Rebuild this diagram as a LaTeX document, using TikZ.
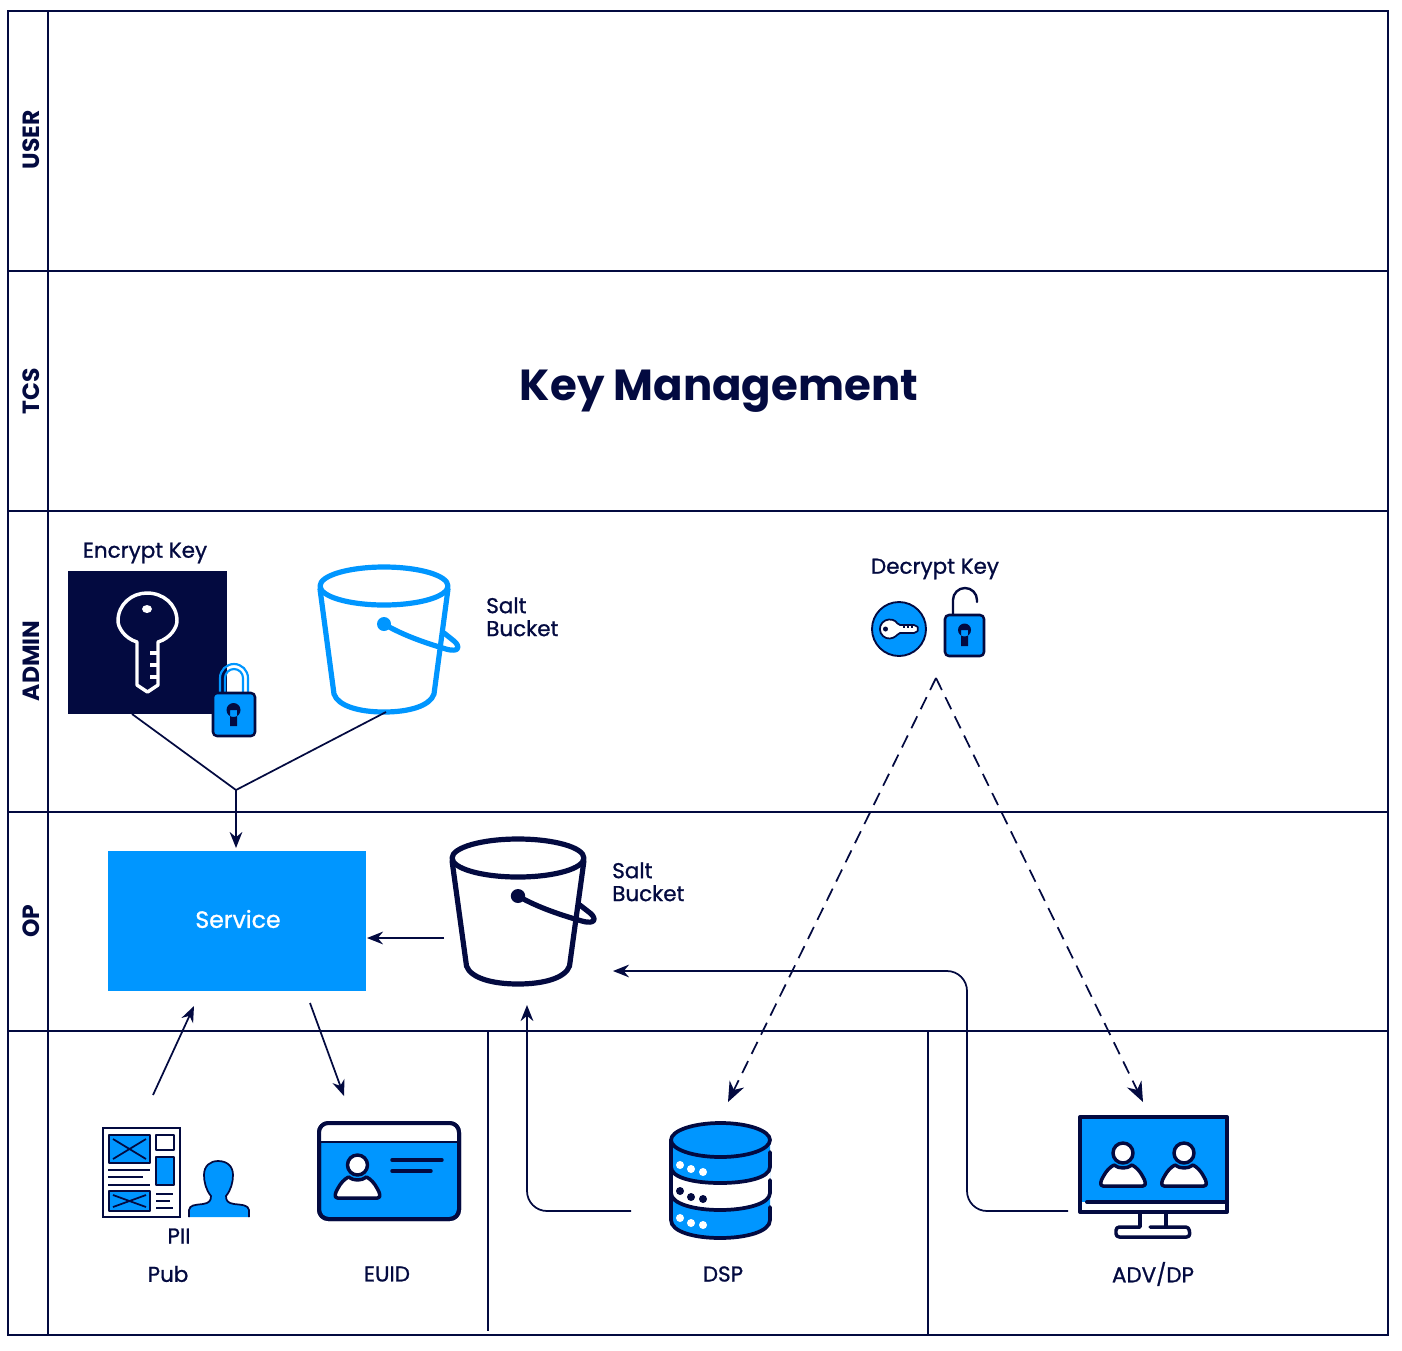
\documentclass[tikz,border=0pt]{standalone}
\usepackage{fontspec}
\setmainfont{Poppins}
\usetikzlibrary{arrows.meta}
\definecolor{navy}{HTML}{030A40}
\definecolor{azure}{HTML}{0096FF}
\tikzset{
  x=0.75pt,y=-0.75pt,
  grid/.style={draw=navy,line width=1.5pt},
  conn/.style={draw=navy,line width=1.3pt,rounded corners=15pt},
  arr/.style={conn,-{Stealth[length=12pt,width=9.5pt]}},
  dashconn/.style={draw=navy,line width=1.3pt,dash pattern=on 10pt off 6pt,-{Stealth[length=15pt,width=12pt]}},
  lab/.style={text=navy,font=\fontsize{16.1}{17.2}\selectfont\addfontfeature{FakeBold=1},align=left,inner sep=0pt},
  lane/.style={text=navy,font=\fontsize{17.6}{18}\bfseries\selectfont,rotate=90,inner sep=0pt},
  ic/.style={draw=navy,line width=2.6pt,line join=round,line cap=round},
  icthin/.style={draw=navy,line width=1.9pt,line join=round,line cap=round},
}
\newcommand{\bucketicon}[4]{%
 \begin{scope}[shift={(#1,#2)},xscale=#3,line join=round,line cap=round,draw=#4,line width=3.9pt]
  \draw (0,0) ellipse [x radius=64,y radius=19];
  \draw (-64,3) -- (-50,108) .. controls (-46,120) and (-25,126) .. (0,126) .. controls (25,126) and (46,120) .. (50,108) -- (64,3);
  \fill[#4] (0,38) circle (7);
  \draw (0,38) .. controls (20,50) and (45,58) .. (62,63) .. controls (76,67) and (76,60) .. (70,55) -- (60,47);
 \end{scope}}
\newcommand{\personicon}[2]{%
 \begin{scope}[shift={(#1,#2)}]
  \path[ic,fill=white] (-20,33) .. controls (-24,33) and (-22,27) .. (-20,24) .. controls (-17,18) and (-13,14) .. (-9,12) .. controls (-4,16) and (4,16) .. (9,12) .. controls (13,14) and (17,18) .. (20,24) .. controls (22,27) and (24,33) .. (20,33) -- cycle;
  \draw[ic,fill=white] (0,0) circle (10);
 \end{scope}}
\begin{document}
\begin{tikzpicture}
\useasboundingbox (0,0) rectangle (1402,1350);
% grid
\draw[grid] (8,11) rectangle (1388,1335);
\draw[grid] (48,11) -- (48,1335);
\foreach \yy in {271,511,812,1031} \draw[grid] (8,\yy) -- (1388,\yy);
\draw[grid] (488,1031) -- (488,1331);
\draw[grid] (928,1031) -- (928,1335);
% lanes
\node[lane] (lu) at (31,140) {USER};
\node[lane] (lt) at (31,391) {TCS};
\node[lane] (la) at (31,661) {ADMIN};
\node[lane] (lo) at (31,921) {OP};
\node[text=navy,font=\fontsize{32.6}{36}\bfseries\selectfont,inner sep=0pt] (title) at (719,391) {Key Management};
% encrypt key
\node[lab] (enclab) at (145,553) {Encrypt Key};
\node[fill=navy,minimum width=119.25pt,minimum height=107.25pt,inner sep=0pt] (enc) at (147.5,642.5) {};
\path[draw=white,line width=2.6pt,line join=round,fill=navy] (137,642) .. controls (124,638) and (118,627) .. (118,621) .. controls (118,604) and (132,593) .. (147,593) .. controls (163,593) and (177,604) .. (177,621) .. controls (177,627) and (171,638) .. (158,642) -- (158,685) -- (147.5,692) -- (137,685) -- cycle;
\fill[white] (147,609) ellipse [x radius=5,y radius=4];
\foreach \yy in {653,665,677} \draw[white,line width=2.6pt] (150,\yy) -- (158,\yy);
% closed lock
\draw[azure,line width=1.6pt] (220,695) -- (220,678) arc[start angle=180,end angle=360,radius=14] -- (248,695);
\draw[azure,line width=1.6pt] (225,695) -- (225,678) arc[start angle=180,end angle=360,radius=9] -- (243,695);
\draw[icthin,fill=azure,rounded corners=3pt] (213,693) rectangle (255,736);
\fill[navy] (233.5,710) circle (7) (230,710) rectangle (237,726);
% salt bucket top
\bucketicon{384}{586}{1}{azure}
\node[lab,anchor=north west] (salt1) at (486,597) {Salt\\Bucket};
% decrypt
\node[lab] (declab) at (935,569) {Decrypt Key};
\draw[line width=1.4pt,draw=navy,fill=azure] (899,629) circle (27);
\path[draw=navy,line width=1.3pt,fill=white,rounded corners=1.5pt] (898,625) arc[start angle=-25,end angle=-335,radius=9.5] -- (916,633) -- (919,629) -- (916,625) -- cycle;
\fill[navy] (885.5,629) circle (2.5);
\foreach \xx in {904,908,912} \draw[navy,line width=1pt] (\xx,625) -- (\xx,628);
\draw[navy,line width=1.8pt,line cap=round] (953,615) -- (953,600) arc[start angle=180,end angle=360,radius=12] -- (977,602);
\draw[icthin,fill=azure,rounded corners=3pt] (945,615) rectangle (984,656);
\fill[navy] (964.5,630) circle (6.5) (961,630) rectangle (968,646);
% service
\node[fill=azure,minimum width=193.5pt,minimum height=105pt,inner sep=0pt] (svc) at (237,921) {};
\node[text=white,font=\fontsize{17.7}{18}\selectfont\addfontfeature{FakeBold=1},inner sep=0pt] (svclab) at (238,919) {Service};
% salt bucket op
\bucketicon{518}{858}{1.03}{navy}
\node[lab,anchor=north west] (salt2) at (612,862) {Salt\\Bucket};
% doc icon
\draw[navy,line width=1.2pt,fill=white] (103,1128) rectangle (180,1217);
\draw[icthin,fill=azure] (109,1135) rectangle (150,1163);
\draw[navy,line width=1.3pt] (113,1139) -- (146,1159) (146,1139) -- (113,1159);
\draw[icthin,fill=white] (156,1135) rectangle (174,1150);
\draw[icthin,fill=azure] (156,1157) rectangle (174,1185);
\draw[navy,line width=1.4pt] (108,1170) -- (150,1170) (108,1177) -- (143,1177) (108,1185) -- (150,1185);
\draw[icthin,fill=azure] (109,1191) rectangle (150,1211);
\draw[navy,line width=1.3pt] (113,1195) -- (146,1207) (146,1195) -- (113,1207);
\draw[navy,line width=1.4pt] (156,1194) -- (173,1194) (156,1201) -- (170,1201) (156,1208) -- (173,1208);
% person
\path[draw=navy,line width=1.3pt,fill=azure] (189,1217) -- (189,1210) .. controls (190,1205) and (194,1205) .. (203,1204) .. controls (209,1203) and (211,1201) .. (211,1196) .. controls (206,1190) and (204,1182) .. (204,1175) .. controls (204,1166) and (210,1161) .. (218,1161) .. controls (227,1161) and (233,1166) .. (233,1175) .. controls (233,1182) and (231,1190) .. (226,1196) .. controls (226,1201) and (228,1203) .. (234,1204) .. controls (243,1205) and (248,1205) .. (249,1210) -- (249,1217);
\node[lab] (pii) at (179,1236) {PII};
\node[lab] (pub) at (168,1274) {Pub};
% card
\draw[ic,fill=azure,rounded corners=7pt,line width=3pt] (319,1123) rectangle (459,1219);
\fill[white] (321,1125) -- (457,1125) -- (457,1141) -- (321,1141) -- cycle;
\draw[ic,line width=2.2pt,line cap=butt] (319,1142) -- (459,1142);
\draw[ic,line cap=round,rounded corners=7pt,line width=3pt] (319,1123) rectangle (459,1219);
\personicon{357.5}{1165}
\draw[ic] (392,1160) -- (442,1160) (392,1171) -- (431,1171);
\node[lab] (euid) at (387,1274) {EUID};
% db
\begin{scope}[line width=2.8pt,line cap=round,line join=round]
\fill[azure] (671,1140) -- (671,1220) .. controls (671,1232) and (695,1238) .. (720,1238) .. controls (745,1238) and (770,1232) .. (770,1220) -- (770,1140) -- cycle;
\fill[white] (671,1167) .. controls (671,1178) and (695,1183) .. (720,1183) .. controls (745,1183) and (770,1178) .. (770,1167) -- (770,1193) .. controls (770,1204) and (745,1210) .. (720,1210) .. controls (695,1210) and (671,1204) .. (671,1193) -- cycle;
\draw[navy] (671,1140) -- (671,1220) .. controls (671,1232) and (695,1238) .. (720,1238) .. controls (745,1238) and (770,1232) .. (770,1220) -- (770,1207);
\draw[navy] (671,1167) .. controls (671,1178) and (695,1183) .. (720,1183) .. controls (745,1183) and (770,1178) .. (770,1167) -- (770,1152);
\draw[navy] (671,1193) .. controls (671,1204) and (695,1210) .. (720,1210) .. controls (745,1210) and (770,1204) .. (770,1193) -- (770,1180);
\draw[navy,fill=azure] (720.5,1140) ellipse [x radius=49.5,y radius=17];
\end{scope}
\foreach \xx/\yy in {680/1165,691/1169,703/1172,680/1218,691/1223,703/1225} \fill[white] (\xx,\yy) circle (4);
\foreach \xx/\yy in {680/1191,691/1197,703/1199} \fill[navy] (\xx,\yy) circle (4);
\node[lab] (dsp) at (723,1274) {DSP};
% monitor
\draw[ic,fill=white,line width=3pt,line cap=butt] (1080,1117) rectangle (1227,1212);
\fill[azure] (1082,1119) rectangle (1225,1202);
\draw[ic,line width=3pt] (1087,1202) -- (1227,1202);
\personicon{1123}{1153}
\personicon{1184}{1153}
\draw[ic,line width=2.6pt,line cap=butt] (1140,1213) -- (1140,1227) (1166,1213) -- (1166,1227);
\draw[ic,line width=2.6pt,rounded corners=2.5pt] (1150,1227) -- (1189,1227) -- (1190,1237) -- (1116,1237) -- (1116,1227) -- (1140,1227);
\node[lab] (adv) at (1153,1274) {ADV/DP};
% connector anchors
\coordinate (join) at (236,790);
\coordinate (encout) at (132,714);
\coordinate (bucketout) at (386,712);
\coordinate (svcin) at (236,848);
\coordinate (opbucketout) at (444,938);
\coordinate (svcright) at (367,938);
\coordinate (pubout) at (153,1095);
\coordinate (svcpubin) at (194,1006);
\coordinate (svcout) at (310,1003);
\coordinate (euidin) at (344,1096);
\coordinate (dspout) at (631,1211);
\coordinate (dspcorner) at (527,1211);
\coordinate (dspin) at (527,1005);
\coordinate (advout) at (1068,1211);
\coordinate (advc1) at (967,1211);
\coordinate (advc2) at (967,971);
\coordinate (advin) at (613,971);
\coordinate (apex) at (936,678);
\coordinate (dspdash) at (728,1102);
\coordinate (advdash) at (1143,1102);
% connectors
\draw[conn,rounded corners=0pt] (encout) -- (join) -- (bucketout);
\draw[arr] (join) -- (svcin);
\draw[arr] (opbucketout) -- (svcright);
\draw[arr] (pubout) -- (svcpubin);
\draw[arr] (svcout) -- (euidin);
\draw[arr] (dspout) -- (dspcorner) -- (dspin);
\draw[arr] (advout) -- (advc1) -- (advc2) -- (advin);
\draw[dashconn] (apex) -- (dspdash);
\draw[dashconn] (apex) -- (advdash);
\end{tikzpicture}
\end{document}
